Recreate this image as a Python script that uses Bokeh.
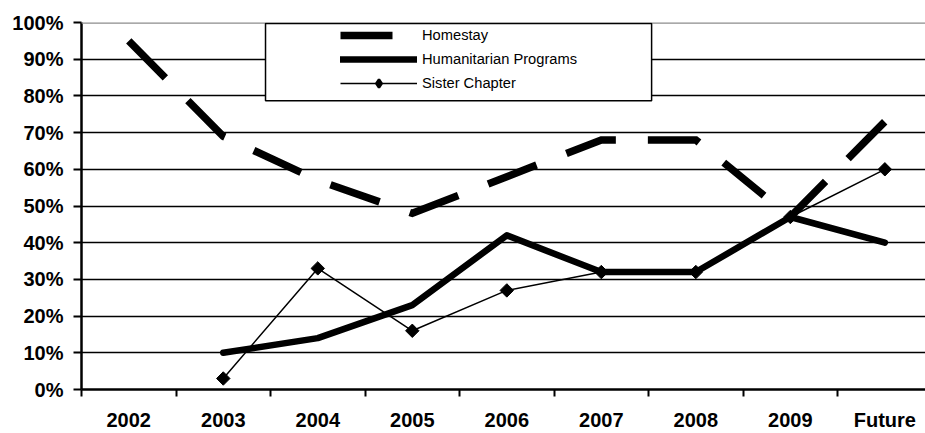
import numpy as np
from bokeh.plotting import figure
from bokeh.models import (Range1d, FixedTicker, NumeralTickFormatter, Legend, LegendItem,
                          ColumnDataSource, Span, BoxAnnotation)
from bokeh.embed import file_html
from bokeh.resources import INLINE

categories = ["2002", "2003", "2004", "2005", "2006", "2007", "2008", "2009", "Future"]
homestay = [0.95, 0.69, 0.57, 0.48, 0.58, 0.68, 0.68, 0.47, 0.73]
humanitarian = [None, 0.10, 0.14, 0.23, 0.42, 0.32, 0.32, 0.47, 0.40]
sister = [None, 0.03, 0.33, 0.16, 0.27, 0.32, 0.32, 0.47, 0.60]
y_ticks = [i / 10 for i in range(11)]

xs = np.arange(len(categories)) + 0.5


def src(vals):
    pts = [(x, v) for x, v in zip(xs, vals) if v is not None]
    return ColumnDataSource(dict(x=[p[0] for p in pts], y=[p[1] for p in pts]))


FONT = "Liberation Sans"

p = figure(width=925, height=433, output_backend="svg", toolbar_location=None,
           x_range=Range1d(0, 8.93), y_range=Range1d(0, 1),
           min_border_left=81, min_border_right=0, min_border_top=22, min_border_bottom=44)
p.outline_line_color = None
p.background_fill_color = "white"
p.border_fill_color = "white"

# grid
p.xgrid.visible = False
p.ygrid.ticker = FixedTicker(ticks=y_ticks[1:-1])
p.ygrid.grid_line_color = "black"
p.ygrid.grid_line_width = 1.5
p.add_layout(Span(location=1.0, dimension="width", line_color="#8c8c8c", line_width=2.5))

# y axis
p.yaxis.ticker = FixedTicker(ticks=y_ticks)
p.yaxis.formatter = NumeralTickFormatter(format="0%")
p.yaxis.axis_line_width = 2.5
p.yaxis.axis_line_color = "black"
p.yaxis.major_tick_line_width = 2
p.yaxis.major_tick_out = 8
p.yaxis.major_tick_in = 0
p.yaxis.minor_tick_line_color = None
p.yaxis.major_label_standoff = 10
p.yaxis.major_label_text_font = FONT
p.yaxis.major_label_text_font_style = "bold"
p.yaxis.major_label_text_font_size = "20px"
p.yaxis.major_label_text_color = "black"

# x axis
p.xaxis.ticker = FixedTicker(ticks=list(xs), minor_ticks=list(range(0, len(categories) + 1)))
p.xaxis.major_label_overrides = {float(x): c for x, c in zip(xs, categories)}
p.xaxis.axis_line_width = 2.5
p.xaxis.axis_line_color = "black"
p.xaxis.major_tick_out = 0
p.xaxis.major_tick_in = 0
p.xaxis.major_tick_line_color = None
p.xaxis.minor_tick_out = 7
p.xaxis.minor_tick_in = 0
p.xaxis.minor_tick_line_width = 2
p.xaxis.minor_tick_line_color = "black"
p.xaxis.major_label_standoff = 12
p.xaxis.major_label_text_font = FONT
p.xaxis.major_label_text_font_style = "bold"
p.xaxis.major_label_text_font_size = "20px"
p.xaxis.major_label_text_color = "black"

# series
r_home = p.line("x", "y", source=src(homestay), line_color="black", line_width=7.5,
                line_dash="52 32", line_cap="butt", line_join="miter")
r_hum = p.line("x", "y", source=src(humanitarian), line_color="black", line_width=6.5,
               line_cap="round", line_join="round")
s_src = src(sister)
r_sis = p.line("x", "y", source=s_src, line_color="black", line_width=1.5)
# small diamonds (used for the legend swatch), covered by the rotated squares below
r_sis_leg = p.scatter("x", "y", source=s_src, marker="diamond", size=8,
                      fill_color="black", line_color="black", line_width=2.5)
p.scatter("x", "y", source=s_src, marker="square", angle=np.pi / 4, size=9.5,
          fill_color="black", line_color="black")

# legend frame
p.add_layout(BoxAnnotation(left=1.947, right=6.032, top=0.997, bottom=0.787,
                           fill_color="white", fill_alpha=1.0,
                           line_color="black", line_width=1.5, line_alpha=1.0))

legend = Legend(items=[
    LegendItem(label="Homestay", renderers=[r_home]),
    LegendItem(label="Humanitarian Programs", renderers=[r_hum]),
    LegendItem(label="Sister Chapter", renderers=[r_sis, r_sis_leg]),
], location=(259, 296))
legend.padding = 0
legend.margin = 0
legend.spacing = 4
legend.glyph_width = 77
legend.glyph_height = 20
legend.label_height = 20
legend.label_standoff = 5
legend.label_text_font = FONT
legend.label_text_font_size = "14.7px"
legend.label_text_color = "black"
legend.border_line_color = None
legend.background_fill_alpha = 0
p.add_layout(legend, "center")

open("out.html", "w").write(file_html(p, INLINE))
